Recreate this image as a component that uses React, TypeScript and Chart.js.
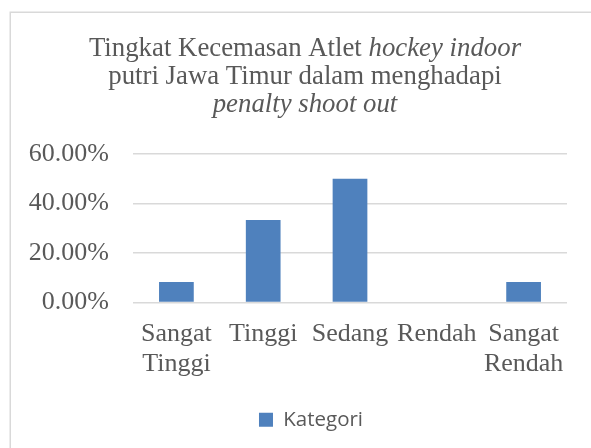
import React, { useEffect, useRef } from "react";
import { Chart, registerables } from "chart.js";

Chart.register(...registerables);

const categories: string[][] = [
  ["Sangat", "Tinggi"],
  ["Tinggi"],
  ["Sedang"],
  ["Rendah"],
  ["Sangat", "Rendah"],
];
const seriesName = "Kategori";
const seriesValues: number[] = [0.0833, 0.3333, 0.5, 0, 0.0833];
const yTicks: number[] = [0, 0.2, 0.4, 0.6];
const titleLines: { text: string; italic: boolean }[][] = [
  [
    { text: "Tingkat Kecemasan Atlet ", italic: false },
    { text: "hockey indoor", italic: true },
  ],
  [{ text: "putri Jawa Timur dalam menghadapi", italic: false }],
  [{ text: "penalty shoot out", italic: true }],
];

const TEXT = "#595959";
const GRID = "#D9D9D9";
const BAR = "#4F81BD";
const SERIF = "'Liberation Serif', 'Times New Roman', serif";

const frameAndTitle = {
  id: "frameAndTitle",
  afterLayout(chart: any) {
    const lg = chart.legend;
    if (lg) {
      const w = lg.right - lg.left;
      const center = 311;
      lg.left = center - w / 2;
      lg.right = center + w / 2;
    }
  },
  beforeDraw(chart: any) {
    const ctx = chart.ctx;
    ctx.save();
    ctx.fillStyle = "#ffffff";
    ctx.fillRect(0, 0, chart.width, chart.height);
    ctx.strokeStyle = GRID;
    ctx.lineWidth = 1.5;
    ctx.strokeRect(10.25, 12.25, chart.width + 50, chart.height + 50);
    ctx.restore();
  },
  afterDraw(chart: any) {
    const ctx = chart.ctx;
    ctx.save();
    ctx.fillStyle = TEXT;
    ctx.textBaseline = "alphabetic";
    ctx.textAlign = "left";
    const size = 26.8;
    const baselines = [56, 84, 112];
    const cx = 305;
    titleLines.forEach((runs, i) => {
      let total = 0;
      const widths = runs.map((r) => {
        ctx.font = `${r.italic ? "italic " : ""}${size}px ${SERIF}`;
        const w = ctx.measureText(r.text).width;
        total += w;
        return w;
      });
      let x = cx - total / 2;
      runs.forEach((r, j) => {
        ctx.font = `${r.italic ? "italic " : ""}${size}px ${SERIF}`;
        ctx.fillText(r.text, x, baselines[i]);
        x += widths[j];
      });
    });
    ctx.restore();
  },
};

export default function App() {
  const ref = useRef<HTMLCanvasElement | null>(null);
  useEffect(() => {
    if (!ref.current) return;
    const chart = new Chart(ref.current, {
      type: "bar",
      data: {
        labels: categories,
        datasets: [
          {
            label: seriesName,
            data: seriesValues,
            backgroundColor: BAR,
            borderWidth: 0,
            barPercentage: 0.4,
            categoryPercentage: 1,
          },
        ],
      },
      plugins: [frameAndTitle],
      options: {
        animation: false,
        responsive: false,
        layout: { padding: { top: 154, right: 24, bottom: 8, left: 0 } },
        plugins: {
          title: { display: false },
          tooltip: { enabled: false },
          legend: {
            display: true,
            position: "bottom",
            labels: {
              boxWidth: 14,
              boxHeight: 14,
              color: TEXT,
              font: { family: "'Open Sans', 'Noto Sans', sans-serif", size: 20.5 },
              padding: 10,
            },
          },
        },
        scales: {
          x: {
            grid: { display: false },
            border: { display: false },
            ticks: {
              color: TEXT,
              font: { family: SERIF, size: 26, lineHeight: 1.15 },
              padding: 9,
              autoSkip: false,
              maxRotation: 0,
              minRotation: 0,
            },
            afterFit(scale: any) {
              scale.height = 97;
            },
          },
          y: {
            min: 0,
            max: 0.6,
            afterBuildTicks(scale: any) {
              scale.ticks = yTicks.map((v) => ({ value: v }));
            },
            grid: { color: GRID, lineWidth: 1.5, drawTicks: false },
            border: { display: false },
            ticks: {
              color: TEXT,
              font: { family: SERIF, size: 26 },
              padding: 24,
              callback: (v: any) => (Number(v) * 100).toFixed(2) + "%",
            },
            afterFit(scale: any) {
              scale.width = 133;
            },
          },
        },
      },
    });
    return () => chart.destroy();
  }, []);
  return (
    <div style={{ position: "absolute", left: 0, top: 0, width: 591, height: 448 }}>
      <canvas ref={ref} width={591} height={448} style={{ display: "block" }} />
    </div>
  );
}
